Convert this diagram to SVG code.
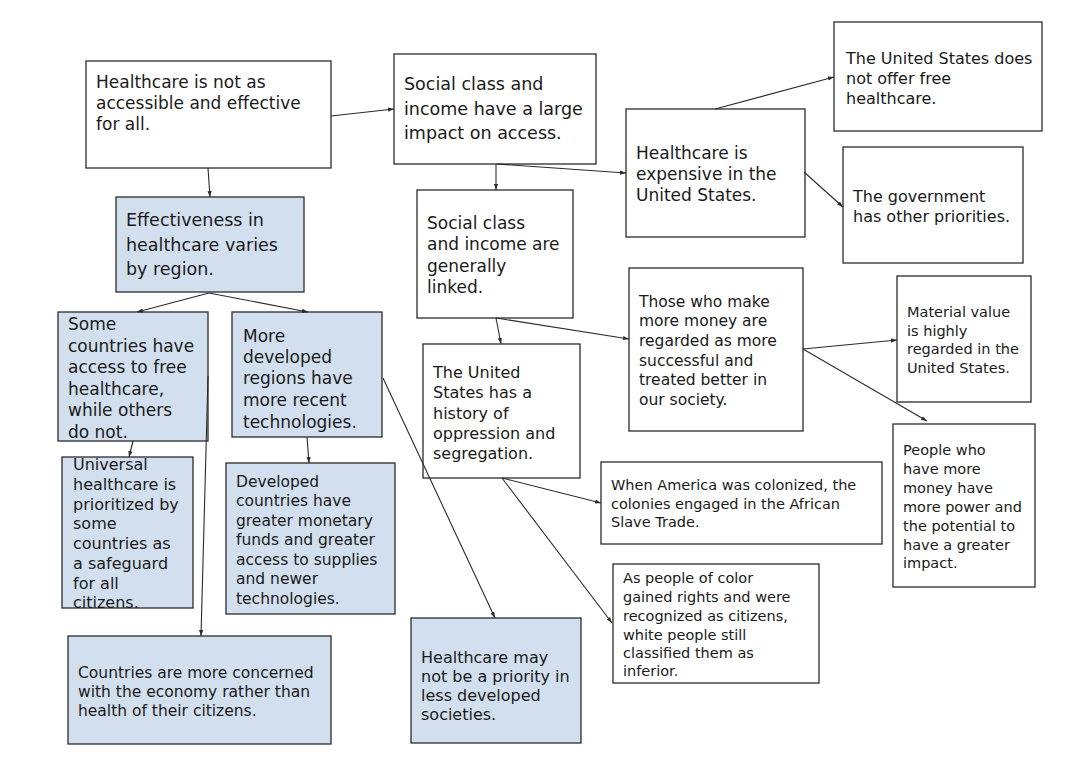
<svg xmlns="http://www.w3.org/2000/svg" width="1088" height="764" viewBox="0 0 1088 764">
<style>
.box{fill:#ffffff;stroke:#2b2b2b;stroke-width:1.3}
.blue{fill:#d2dfee;stroke:#2b2b2b;stroke-width:1.3}
text{font-family:"DejaVu Sans","Open Sans","Liberation Sans",sans-serif;fill:#1a1a1a}
.f175{font-size:17.5px}.f17{font-size:17px}.f16{font-size:16px}.f155{font-size:15.5px}.f145{font-size:14.5px}
.con line{stroke:#2b2b2b;stroke-width:1.1;marker-end:url(#ah)}
</style>
<defs>
<marker id="ah" viewBox="0 0 10 10" refX="10" refY="5" markerWidth="6" markerHeight="6" orient="auto" markerUnits="userSpaceOnUse">
<path d="M0,1.5 L10,5 L0,8.5 z" fill="#2b2b2b"/>
</marker>
<clipPath id="clipI"><rect x="62" y="457" width="131" height="151"/></clipPath>
</defs>
<rect width="1088" height="764" fill="#ffffff"/>

<g id="nA"><rect class="box" x="86" y="61" width="245" height="107"/>
<text class="f17"><tspan x="96" y="88">Healthcare is not as</tspan><tspan x="96" y="109">accessible and effective</tspan><tspan x="96" y="130">for all.</tspan></text></g>

<g id="nB"><rect class="box" x="394" y="54" width="202" height="110"/>
<text class="f175"><tspan x="404" y="89.5">Social class and</tspan><tspan x="404" y="114.5">income have a large</tspan><tspan x="404" y="138.5">impact on access.</tspan></text></g>

<g id="nC"><rect class="box" x="626" y="109" width="179" height="128"/>
<text class="f17"><tspan x="636" y="159">Healthcare is</tspan><tspan x="636" y="180">expensive in the</tspan><tspan x="636" y="201">United States.</tspan></text></g>

<g id="nD"><rect class="box" x="834" y="22" width="208" height="109"/>
<text class="f16"><tspan x="846" y="64">The United States does</tspan><tspan x="846" y="84">not offer free</tspan><tspan x="846" y="104">healthcare.</tspan></text></g>

<g id="nE"><rect class="box" x="843" y="147" width="180" height="116"/>
<text class="f16"><tspan x="853" y="202">The government</tspan><tspan x="853" y="222">has other priorities.</tspan></text></g>

<g id="nF"><rect class="blue" x="116" y="197" width="188" height="95"/>
<text class="f175"><tspan x="126" y="226">Effectiveness in</tspan><tspan x="126" y="250.5">healthcare varies</tspan><tspan x="126" y="275">by region.</tspan></text></g>

<g id="nG"><rect class="blue" x="58" y="312" width="150" height="129"/>
<text class="f17"><tspan x="68" y="330">Some</tspan><tspan x="68" y="351.5">countries have</tspan><tspan x="68" y="373">access to free</tspan><tspan x="68" y="394.5">healthcare,</tspan><tspan x="68" y="416">while others</tspan><tspan x="68" y="437.5">do not.</tspan></text></g>

<g id="nH"><rect class="blue" x="232" y="312" width="150" height="125"/>
<text class="f17"><tspan x="243" y="342">More</tspan><tspan x="243" y="363">developed</tspan><tspan x="243" y="384">regions have</tspan><tspan x="243" y="406">more recent</tspan><tspan x="243" y="428">technologies.</tspan></text></g>

<g id="nI"><rect class="blue" x="62" y="457" width="131" height="151"/>
<text class="f16" clip-path="url(#clipI)"><tspan x="73" y="469.5">Universal</tspan><tspan x="73" y="489.5">healthcare is</tspan><tspan x="73" y="509.5">prioritized by</tspan><tspan x="73" y="529">some</tspan><tspan x="73" y="549">countries as</tspan><tspan x="73" y="569">a safeguard</tspan><tspan x="73" y="588.5">for all</tspan><tspan x="73" y="608">citizens.</tspan></text></g>

<g id="nJ"><rect class="blue" x="226" y="463" width="169" height="151"/>
<text class="f155"><tspan x="236" y="486.5"> Developed</tspan><tspan x="236" y="506">countries have</tspan><tspan x="236" y="525.5">greater monetary</tspan><tspan x="236" y="545">funds and greater</tspan><tspan x="236" y="564.5">access to supplies</tspan><tspan x="236" y="584">and newer</tspan><tspan x="236" y="603.5">technologies.</tspan></text></g>

<g id="nK"><rect class="blue" x="68" y="636" width="263" height="108"/>
<text class="f155"><tspan x="78" y="677.5">Countries are more concerned</tspan><tspan x="78" y="696.5">with the economy rather than</tspan><tspan x="78" y="715.5">health of their citizens.</tspan></text></g>

<g id="nL"><rect class="box" x="417" y="190" width="156" height="128"/>
<text class="f17"><tspan x="427" y="229">Social class</tspan><tspan x="427" y="250">and income are</tspan><tspan x="427" y="272">generally</tspan><tspan x="427" y="293">linked.</tspan></text></g>

<g id="nM"><rect class="box" x="423" y="344" width="157" height="134"/>
<text class="f16"><tspan x="433" y="378">The United</tspan><tspan x="433" y="398">States has a</tspan><tspan x="433" y="418.5">history of</tspan><tspan x="433" y="438.5">oppression and</tspan><tspan x="433" y="458.5">segregation.</tspan></text></g>

<g id="nN"><rect class="box" x="629" y="268" width="174" height="163"/>
<text class="f155"><tspan x="639" y="306.5">Those who make</tspan><tspan x="639" y="326">more money are</tspan><tspan x="639" y="346">regarded as more</tspan><tspan x="639" y="365.5">successful and</tspan><tspan x="639" y="385">treated better in</tspan><tspan x="639" y="404.5">our society.</tspan></text></g>

<g id="nO"><rect class="box" x="897" y="276" width="134" height="126"/>
<text class="f145"><tspan x="907" y="317">Material value</tspan><tspan x="907" y="335.5">is highly</tspan><tspan x="907" y="354">regarded in the</tspan><tspan x="907" y="373">United States.</tspan></text></g>

<g id="nP"><rect class="box" x="893" y="424" width="142" height="163"/>
<text class="f145"><tspan x="903" y="455">People who</tspan><tspan x="903" y="474">have more</tspan><tspan x="903" y="493">money have</tspan><tspan x="903" y="512">more power and</tspan><tspan x="903" y="531">the potential to</tspan><tspan x="903" y="549.5">have a greater</tspan><tspan x="903" y="568">impact.</tspan></text></g>

<g id="nQ"><rect class="box" x="601" y="462" width="281" height="82"/>
<text class="f145"><tspan x="611" y="490">When America was colonized, the</tspan><tspan x="611" y="509">colonies engaged in the African</tspan><tspan x="611" y="527">Slave Trade.</tspan></text></g>

<g id="nR"><rect class="box" x="613" y="564" width="206" height="119"/>
<text class="f145"><tspan x="623" y="583"> As people of color</tspan><tspan x="623" y="602">gained rights and were</tspan><tspan x="623" y="621">recognized as citizens,</tspan><tspan x="623" y="640">white people still</tspan><tspan x="623" y="658">classified them as</tspan><tspan x="623" y="676">inferior.</tspan></text></g>

<g id="nS"><rect class="blue" x="411" y="618" width="170" height="125"/>
<text class="f16"><tspan x="421" y="663">Healthcare may</tspan><tspan x="421" y="682">not be a priority in</tspan><tspan x="421" y="701">less developed</tspan><tspan x="421" y="720">societies.</tspan></text></g>

<g id="connectors" class="con">
<line x1="331" y1="116" x2="394" y2="109"/>
<line x1="208" y1="168" x2="210" y2="197"/>
<line x1="496" y1="164" x2="496" y2="190"/>
<line x1="497" y1="164" x2="626" y2="173"/>
<line x1="715" y1="109" x2="834" y2="77"/>
<line x1="804" y1="172" x2="843" y2="207"/>
<line x1="209" y1="293" x2="137" y2="312"/>
<line x1="209" y1="293" x2="308" y2="312"/>
<line x1="133" y1="441" x2="129" y2="457"/>
<line x1="307" y1="437" x2="309" y2="463"/>
<line x1="208" y1="376" x2="201" y2="636"/>
<line x1="383" y1="378" x2="495" y2="618"/>
<line x1="496" y1="318" x2="501" y2="344"/>
<line x1="496" y1="318" x2="629" y2="339"/>
<line x1="803" y1="349" x2="897" y2="340"/>
<line x1="803" y1="349" x2="927" y2="421"/>
<line x1="502" y1="478" x2="601" y2="503"/>
<line x1="502" y1="478" x2="612" y2="623"/>
</g>
</svg>
